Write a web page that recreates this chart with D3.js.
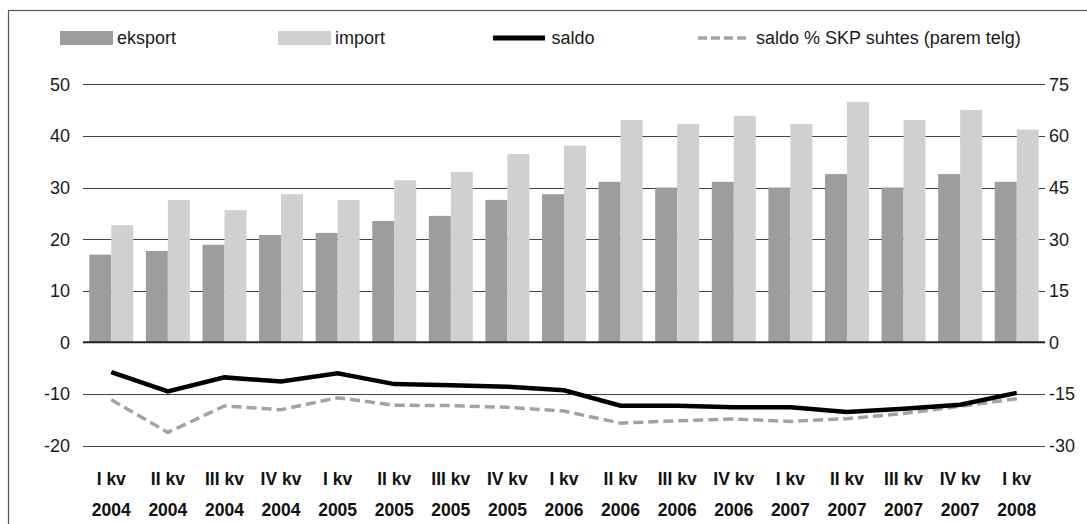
<!DOCTYPE html>
<html>
<head>
<meta charset="utf-8">
<script src="https://cdn.jsdelivr.net/npm/d3@7"></script>
<style>
  html, body { margin: 0; padding: 0; background: #fff; }
  svg { display: block; font-family: "Liberation Sans", Arial, sans-serif; }
</style>
</head>
<body>
<svg id="chart" width="1087" height="524"></svg>
<script>
const quarters = ["I kv","II kv","III kv","IV kv","I kv","II kv","III kv","IV kv","I kv","II kv","III kv","IV kv","I kv","II kv","III kv","IV kv","I kv"];
const years = ["2004","2004","2004","2004","2005","2005","2005","2005","2006","2006","2006","2006","2007","2007","2007","2007","2008"];
const eksport = [17.0, 17.7, 18.9, 20.8, 21.2, 23.5, 24.5, 27.6, 28.7, 31.1, 30.0, 31.1, 30.0, 32.6, 30.0, 32.6, 31.1];
const importVals = [22.7, 27.6, 25.6, 28.7, 27.6, 31.4, 33.0, 36.5, 38.1, 43.1, 42.3, 43.9, 42.3, 46.6, 43.1, 45.0, 41.2];
const saldo = [-5.8, -9.5, -6.8, -7.6, -6.0, -8.1, -8.3, -8.6, -9.3, -12.3, -12.3, -12.6, -12.6, -13.5, -12.9, -12.1, -9.8];
const saldoPct = [-16.7, -26.2, -18.5, -19.6, -16.1, -18.3, -18.4, -18.9, -20.0, -23.5, -22.8, -22.3, -23.0, -22.2, -20.7, -18.6, -16.4];
const leftTicks = [-20, -10, 0, 10, 20, 30, 40, 50];
const rightTicks = [-30, -15, 0, 15, 30, 45, 60, 75];
const legendLabels = ["eksport", "import", "saldo", "saldo % SKP suhtes (parem telg)"];

const svg = d3.select("#chart");
const idx = d3.range(quarters.length);

const x = d3.scaleBand().domain(idx).range([83, 1045]).paddingInner(0.223).paddingOuter(0.111);
const xSub = d3.scaleBand().domain([0, 1]).range([0, x.bandwidth()]);
const yL = d3.scaleLinear().domain([-20, 50]).range([445.5, 84.3]);
const yR = d3.scaleLinear().domain([-30, 75]).range([445.5, 84.3]);

const cEks = "#9c9d9f", cImp = "#cfd0d2", cPct = "#a3a3a3";

// outer frame
svg.append("rect").attr("x", 8.5).attr("y", 10.5).attr("width", 1100).attr("height", 530)
  .attr("fill", "none").attr("stroke", "#555").attr("stroke-width", 1.2);

// gridlines
svg.append("g").selectAll("line").data(leftTicks.filter(d => d !== 0)).join("line")
  .attr("x1", 83).attr("x2", 1045)
  .attr("y1", d => Math.round(yL(d)) + 0.5).attr("y2", d => Math.round(yL(d)) + 0.5)
  .attr("stroke", "#444").attr("stroke-width", 1);

// bars
const groups = svg.append("g").selectAll("g").data(idx).join("g")
  .attr("transform", i => `translate(${x(i)},0)`);
groups.append("rect")
  .attr("x", xSub(0)).attr("width", xSub.bandwidth())
  .attr("y", i => yL(eksport[i])).attr("height", i => yL(0) - yL(eksport[i]))
  .attr("fill", cEks);
groups.append("rect")
  .attr("x", xSub(1)).attr("width", xSub.bandwidth())
  .attr("y", i => yL(importVals[i])).attr("height", i => yL(0) - yL(importVals[i]))
  .attr("fill", cImp);

// zero line
svg.append("line").attr("x1", 83).attr("x2", 1045)
  .attr("y1", yL(0)).attr("y2", yL(0))
  .attr("stroke", "#222").attr("stroke-width", 2);

// lines
const cx = i => x(i) + x.bandwidth() / 2;
svg.append("path").datum(idx)
  .attr("d", d3.line().x(cx).y(i => yR(saldoPct[i])))
  .attr("fill", "none").attr("stroke", cPct).attr("stroke-width", 3.5)
  .attr("stroke-dasharray", "10,5");
svg.append("path").datum(idx)
  .attr("d", d3.line().x(cx).y(i => yL(saldo[i])))
  .attr("fill", "none").attr("stroke", "#000").attr("stroke-width", 4.5)
  .attr("stroke-linejoin", "miter");

// left axis labels
svg.append("g").selectAll("text").data(leftTicks).join("text")
  .attr("x", 70).attr("y", d => yL(d)).attr("dy", "0.36em")
  .attr("text-anchor", "end").attr("font-size", 18).attr("fill", "#1a1a1a")
  .text(d => d);
// right axis labels
svg.append("g").selectAll("text").data(rightTicks).join("text")
  .attr("x", 1049).attr("y", d => yR(d)).attr("dy", "0.36em")
  .attr("text-anchor", "start").attr("font-size", 18).attr("fill", "#1a1a1a")
  .text(d => d);

// x labels
const xl = svg.append("g").selectAll("text").data(idx).join("text")
  .attr("text-anchor", "middle").attr("font-size", 17.5).attr("font-weight", "bold").attr("fill", "#111");
xl.append("tspan").attr("x", cx).attr("y", 485).text(i => quarters[i]);
xl.append("tspan").attr("x", cx).attr("y", 516).text(i => years[i]);

// legend
const lg = svg.append("g").attr("font-size", 18).attr("fill", "#1a1a1a");
lg.append("rect").attr("x", 60).attr("y", 31).attr("width", 53).attr("height", 14).attr("fill", cEks);
lg.append("text").attr("x", 117).attr("y", 44).text(legendLabels[0]);
lg.append("rect").attr("x", 278).attr("y", 31).attr("width", 53).attr("height", 14).attr("fill", cImp);
lg.append("text").attr("x", 335).attr("y", 44).text(legendLabels[1]);
lg.append("line").attr("x1", 493).attr("x2", 545).attr("y1", 38).attr("y2", 38)
  .attr("stroke", "#000").attr("stroke-width", 5);
lg.append("text").attr("x", 551.5).attr("y", 44).text(legendLabels[2]);
lg.append("line").attr("x1", 698).attr("x2", 749).attr("y1", 38).attr("y2", 38)
  .attr("stroke", cPct).attr("stroke-width", 3.5).attr("stroke-dasharray", "9,4");
lg.append("text").attr("x", 756).attr("y", 44).text(legendLabels[3]);
</script>
</body>
</html>
